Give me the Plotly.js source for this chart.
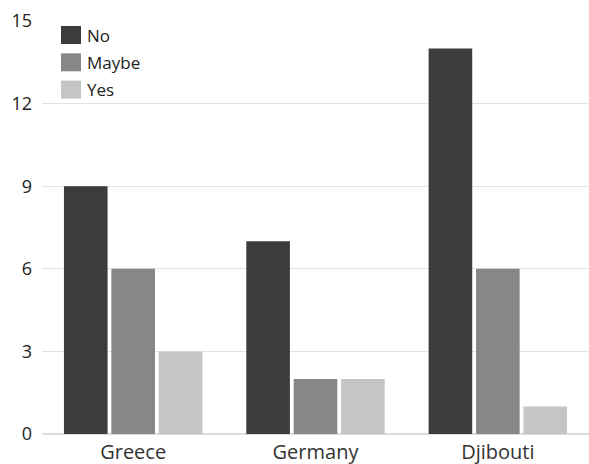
<!DOCTYPE html>
<html>
<head>
<meta charset="utf-8">
<script src="https://cdn.plot.ly/plotly-3.0.1.min.js"></script>
<style>html,body{margin:0;padding:0;background:#fff;}#chart{width:589px;height:464px;}</style>
</head>
<body>
<div id="chart"></div>
<script>
const categories = ["Greece", "Germany", "Djibouti"];
const seriesNames = ["No", "Maybe", "Yes"];
const noValues = [9, 7, 14];
const maybeValues = [6, 2, 6];
const yesValues = [3, 2, 1];
const yTicks = [0, 3, 6, 9, 12, 15];
const colors = ["#3c3c3a", "#878787", "#c5c5c5"];

const seriesValues = [noValues, maybeValues, yesValues];
const traces = seriesValues.map((vals, i) => ({
  type: "bar",
  name: seriesNames[i],
  x: categories,
  y: vals,
  marker: {color: colors[i], line: {width: 0}},
  showlegend: false,
  hoverinfo: "x+y+name"
}));

const W = 589, H = 464, L = 42, R = 0, T = 21, B = 30;
const pw = W - L - R, ph = H - T - B;
const shapes = [];
const annotations = [];
seriesNames.forEach((n, i) => {
  const py0 = 26 + i * 27.3, py1 = py0 + 18;
  shapes.push({type: "rect", xref: "paper", yref: "paper",
    x0: (61 - L) / pw, x1: (81 - L) / pw,
    y0: 1 - (py1 - T) / ph, y1: 1 - (py0 - T) / ph,
    line: {width: 0}, fillcolor: colors[i]});
  annotations.push({xref: "paper", yref: "paper", text: n, showarrow: false,
    x: (85 - L) / pw, y: 1 - (py0 + 9 - T) / ph,
    xanchor: "left", yanchor: "middle", font: {size: 17, color: "#222"}});
});

const layout = {
  width: W, height: H,
  margin: {l: L, r: R, t: T, b: B, pad: 0},
  paper_bgcolor: "#fff", plot_bgcolor: "#fff",
  font: {family: "Open Sans, Noto Sans, sans-serif", color: "#222"},
  barmode: "group",
  bargap: 0.22,
  bargroupgap: 0.08,
  xaxis: {tickfont: {size: 20, color: "#333"}, showgrid: false, zeroline: false,
    showline: false, ticks: "", ticklabelstandoff: 4, range: [-0.5, 2.5]},
  yaxis: {range: [0, 15], tickvals: yTicks, ticktext: yTicks.map(String),
    tickfont: {size: 18, color: "#222"}, showgrid: true, gridcolor: "#e3e3e3", gridwidth: 1,
    zeroline: true, zerolinecolor: "#dcdcdc", zerolinewidth: 2, showline: false, ticks: "",
    ticklabelstandoff: 9},
  shapes: shapes,
  annotations: annotations,
  showlegend: false
};

Plotly.newPlot("chart", traces, layout, {displayModeBar: false, staticPlot: true});
</script>
</body>
</html>
